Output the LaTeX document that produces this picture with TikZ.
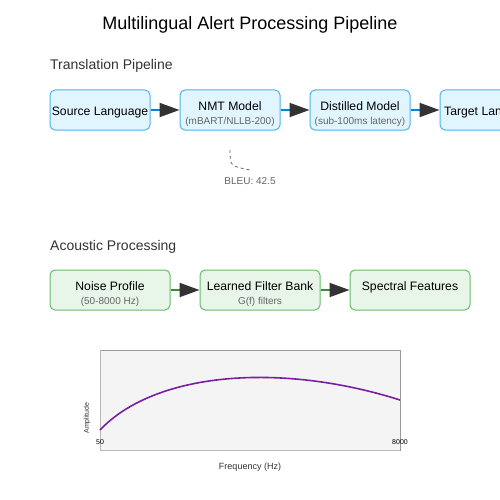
\documentclass[tikz,border=0pt]{standalone}
\usepackage{fontspec}
\setmainfont{Liberation Sans}
\usetikzlibrary{arrows.meta}
\definecolor{transfill}{HTML}{E1F5FE}
\definecolor{transline}{HTML}{4FB3EA}
\definecolor{transarrow}{HTML}{0288D1}
\definecolor{acoufill}{HTML}{E8F5E9}
\definecolor{acouline}{HTML}{66BB6A}
\definecolor{acouarrow}{HTML}{388E3C}
\definecolor{tipdark}{HTML}{333333}
\definecolor{subgray}{HTML}{666666}
\definecolor{plotfill}{HTML}{F4F4F4}
\definecolor{plotline}{HTML}{999999}
\definecolor{curvepurple}{HTML}{7B1FA2}
\newcommand{\fsz}[1]{\fontsize{#1}{#1}\selectfont}

\begin{document}
\begin{tikzpicture}[x=1pt, y=-1pt,
    transbox/.style={draw=transline, fill=transfill, line width=1pt, rounded corners=5pt,
      minimum width=100pt, minimum height=40pt, inner sep=0pt},
    acoubox/.style={draw=acouline, fill=acoufill, line width=1pt, rounded corners=5pt,
      minimum width=120pt, minimum height=40pt, inner sep=0pt},
    maintext/.style={font=\fsz{12.2}, inner sep=0pt, anchor=base},
    subtext/.style={font=\fsz{10}, text=subgray, inner sep=0pt, anchor=base},
    bigtip/.style={-{Triangle[length=20pt, width=14pt, color=tipdark]}},
    transflow/.style={bigtip, draw=transarrow, line width=2pt},
    acouflow/.style={bigtip, draw=acouarrow, line width=2pt},
  ]
    \useasboundingbox[fill=white] (0,0) rectangle (500,500) ;
    \node[anchor=base] at (250,29.5) (title) {\fsz{18}Multilingual Alert Processing Pipeline} ;
    % translation pipeline
    \node[anchor=base west, inner sep=0pt] at (50,70) (transhead) {\fsz{14}\color{tipdark}Translation Pipeline} ;
    \node[transbox] at (100,110) (SRC) {} ;
    \node[transbox] at (230,110) (NMT) {} ;
    \node[transbox] at (360,110) (DIST) {} ;
    \node[transbox] at (490,110) (TGT) {} ;
    \node[maintext] at (100,115) (srctxt) {Source Language} ;
    \node[maintext] at (230,110.5) (nmttxt) {NMT Model} ;
    \node[subtext] at (230,124.5) (nmtsub) {(mBART/NLLB-200)} ;
    \node[maintext] at (360,110.5) (disttxt) {Distilled Model} ;
    \node[subtext] at (360,124.5) (distsub) {(sub-100ms latency)} ;
    \node[maintext] at (490,115) (tgttxt) {Target Language} ;
    \draw[transflow] (SRC.east) -- (NMT.west) ;
    \draw[transflow] (NMT.east) -- (DIST.west) ;
    \draw[transflow] (DIST.east) -- (TGT.west) ;
    \coordinate (bleustart) at (230,150) ;
    \coordinate (bleuend) at (250,170) ;
    \draw[subgray, dashed, line width=0.8pt] (bleustart) .. controls (230,166) .. (bleuend) ;
    \node[subtext] at (250,184.5) (bleu) {BLEU: 42.5} ;
    % acoustic processing
    \node[anchor=base west, inner sep=0pt] at (50,250) (acouhead) {\fsz{14}\color{tipdark}Acoustic Processing} ;
    \node[acoubox] at (110,290) (NOISE) {} ;
    \node[acoubox] at (260,290) (FILT) {} ;
    \node[acoubox] at (410,290) (SPEC) {} ;
    \node[maintext] at (110,290) (noisetxt) {Noise Profile} ;
    \node[subtext] at (110,304) (noisesub) {(50-8000 Hz)} ;
    \node[maintext] at (260,290) (filttxt) {Learned Filter Bank} ;
    \node[subtext] at (260,304) (filtsub) {G(f) filters} ;
    \node[maintext] at (410,290) (spectxt) {Spectral Features} ;
    \draw[acouflow] (NOISE.east) -- (FILT.west) ;
    \draw[acouflow] (FILT.east) -- (SPEC.west) ;
    % response plot
    \draw[plotline, fill=plotfill, line width=1pt] (100,350) rectangle (400,450) ;
    \draw[plotline!120!black, line width=1pt] (100,350) -- (100,450) -- (400,450) ;
    \draw[curvepurple, line width=1.6pt] (100,430) .. controls (155,372) and (280,362) .. (400,400) ;
    \node[anchor=base] at (100,444.5) (fmin) {\fsz{7}50} ;
    \node[anchor=base] at (400,444.5) (fmax) {\fsz{7}8000} ;
    \node[rotate=90] at (87,418) (ampl) {\fsz{7}\color{tipdark}Amplitude} ;
    \node[anchor=base] at (250,469) (freq) {\fsz{9}\color{tipdark}Frequency (Hz)} ;
  \end{tikzpicture}
\end{document}
